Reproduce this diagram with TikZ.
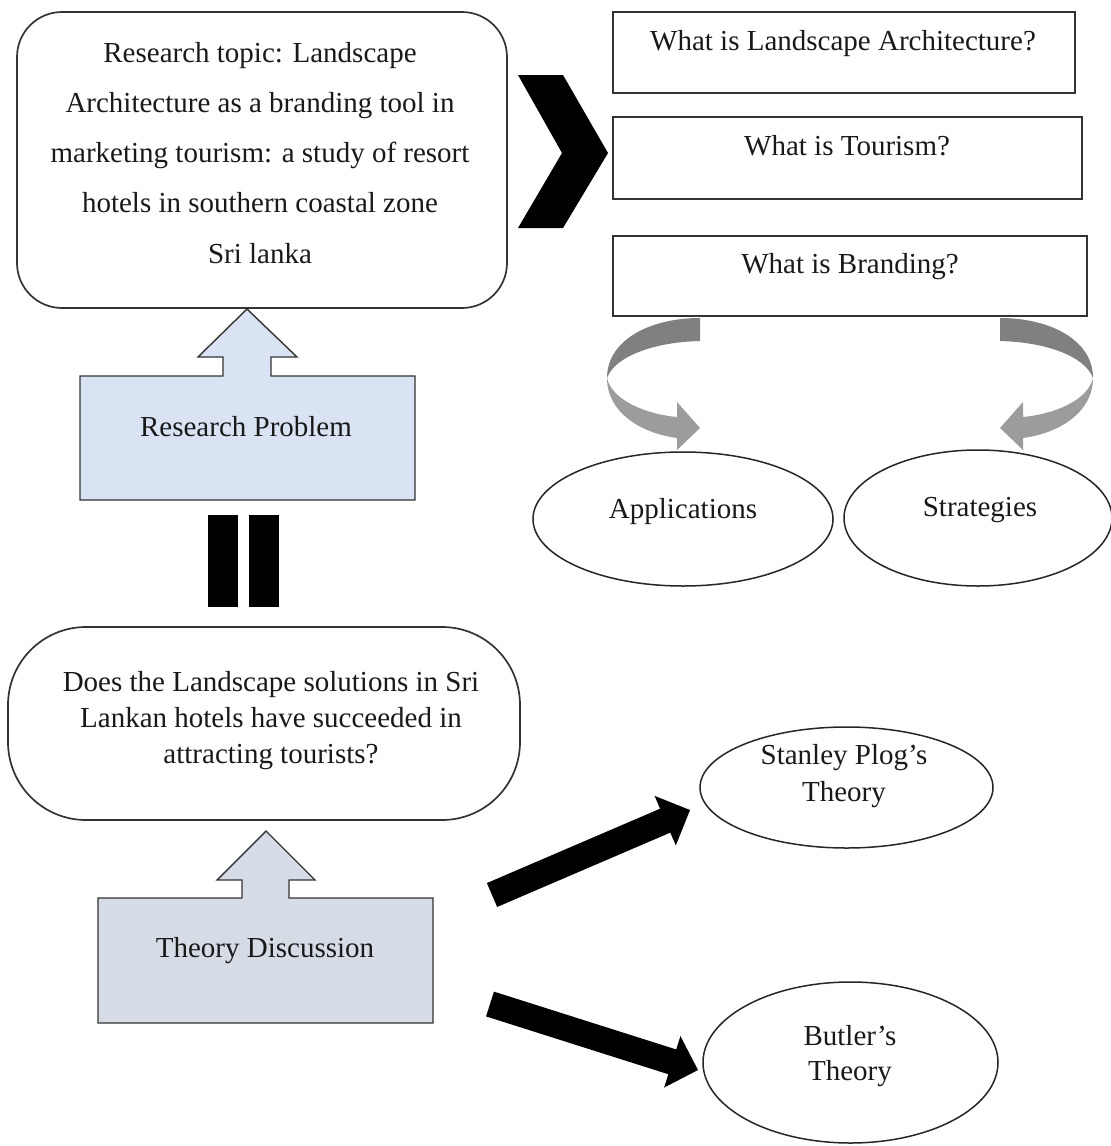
\documentclass[tikz,border=0pt]{standalone}
\usepackage{fontspec}
\setmainfont{Liberation Serif}
\usetikzlibrary{calc,shapes.geometric}
\definecolor{rpblue}{HTML}{DAE3F3}
\definecolor{tdgrey}{HTML}{D6DCE5}
\definecolor{ribdark}{HTML}{808080}
\definecolor{riblight}{HTML}{9C9C9C}
\begin{document}
\begin{tikzpicture}[x=1pt,y=-1pt,
  outl/.style={draw=black!80, line width=1.7pt},
  txt/.style={font=\fontsize{29}{36}\selectfont, text=black!90, inner sep=0pt},
  qbox/.style={outl, rectangle, inner sep=0pt, fill=white},
  oval/.style={draw=black!85, line width=1.5pt, ellipse, inner sep=0pt, fill=white},
  blockfill/.style={fill=black}
]
\useasboundingbox (0,0) rectangle (1111,1146);

% ---------- top-left topic box ----------
\node[qbox, rounded corners=45pt, minimum width=490pt, minimum height=296pt] (topic) at (262,160) {};
\node[txt, align=center, font=\fontsize{29}{50.25}\selectfont] (topictxt) at (260,152.6)
  {Research topic: Landscape\\Architecture as a branding tool in\\marketing tourism: a study of resort\\hotels in southern coastal zone\\Sri lanka};

% ---------- chevron ----------
\fill[black] (518,75) -- (563,75) -- (608,153) -- (563,228) -- (518,228) -- (562,153) -- cycle;

% ---------- right question boxes ----------
\node[qbox, minimum width=462pt, minimum height=81pt] (q1) at (844,52.5) {};
\node[txt, anchor=base] (q1t) at (843,50) {What is Landscape Architecture?};
\node[qbox, minimum width=469pt, minimum height=82pt] (q2) at (847.5,158) {};
\node[txt, anchor=base] (q2t) at (847,155) {What is Tourism?};
\node[qbox, minimum width=474pt, minimum height=80pt] (q3) at (850,276) {};
\node[txt, anchor=base] (q3t) at (850,273) {What is Branding?};

% ---------- ellipses Applications / Strategies ----------
\node[oval, minimum width=300pt, minimum height=134pt] (app) at (683,519) {};
\node[txt, anchor=base] (appt) at (683,518) {Applications};
\node[oval, minimum width=268pt, minimum height=136pt] (strat) at (978,518) {};
\node[txt, anchor=base] (stratt) at (980,516) {Strategies};

% ---------- curved ribbon arrows ----------
\begin{scope}
  \fill[ribdark] (700,318) -- (700,341) .. controls (655,342) and (615,356) .. (607,378)
     .. controls (607,340) and (650,318) .. (700,318) -- cycle;
  \fill[riblight] (607,378) .. controls (607,412) and (640,433) .. (677,438)
     -- (677,450) -- (700,428) -- (677,402) -- (677,417)
     .. controls (645,414) and (612,400) .. (607,378) -- cycle;
\end{scope}
\begin{scope}[shift={(1700,0)}, xscale=-1]
  \fill[ribdark] (700,318) -- (700,341) .. controls (655,342) and (615,356) .. (607,378)
     .. controls (607,340) and (650,318) .. (700,318) -- cycle;
  \fill[riblight] (607,378) .. controls (607,412) and (640,433) .. (677,438)
     -- (677,450) -- (700,428) -- (677,402) -- (677,417)
     .. controls (645,414) and (612,400) .. (607,378) -- cycle;
\end{scope}

% ---------- Research Problem (box with up arrow) ----------
\filldraw[draw=black!80, line width=1.4pt, fill=rpblue, line join=miter]
  (80,376) -- (223,376) -- (223,357) -- (198,357) -- (247,309) -- (297,357)
  -- (271,357) -- (271,376) -- (415,376) -- (415,500) -- (80,500) -- cycle;
\node[txt, anchor=base] (rp) at (246,436) {Research Problem};

% ---------- equal bars ----------
\fill[black] (208,515) rectangle (238,607);
\fill[black] (249,515) rectangle (279,607);

% ---------- question rounded box ----------
\node[qbox, rounded corners=78pt, minimum width=512pt, minimum height=193pt] (quest) at (264,723.5) {};
\node[txt, align=center, font=\fontsize{29}{36}\selectfont] (questt) at (271,721)
  {Does the Landscape solutions in Sri\\Lankan hotels have succeeded in\\attracting tourists?};

% ---------- Theory Discussion (box with up arrow) ----------
\filldraw[draw=black!80, line width=1.4pt, fill=tdgrey, line join=miter]
  (98,898) -- (242,898) -- (242,880) -- (217,880) -- (266,831) -- (315,880)
  -- (289,880) -- (289,898) -- (433,898) -- (433,1023) -- (98,1023) -- cycle;
\node[txt, anchor=base] (td) at (265,957) {Theory Discussion};

% ---------- theory ellipses ----------
\node[oval, minimum width=293pt, minimum height=121pt] (plog) at (846.5,787.5) {};
\node[txt, align=center, font=\fontsize{29}{37}\selectfont] (plogt) at (844,776.5) {Stanley Plog’s\\Theory};
\node[oval, minimum width=295pt, minimum height=161pt] (butler) at (850.5,1062.5) {};
\node[txt, align=center, font=\fontsize{29}{35}\selectfont] (butlert) at (850,1055.6) {Butler’s\\Theory};

% ---------- block arrows ----------
\coordinate (a1tail) at (492,895);
\coordinate (a1tip) at (690,810);
\coordinate (a2tail) at (490,1004);
\coordinate (a2tip) at (698,1070);
\foreach \t/\h in {a1tail/a1tip, a2tail/a2tip}{
  \coordinate (hb) at ($(\h)!27pt!(\t)$);
  \fill[black] ($(\t)!13pt!90:(\h)$) -- ($(hb)!13pt!90:(\h)$) -- ($(hb)!27pt!90:(\h)$)
    -- (\h) -- ($(hb)!27pt!-90:(\h)$) -- ($(hb)!13pt!-90:(\h)$) -- ($(\t)!13pt!-90:(\h)$) -- cycle;
}
\end{tikzpicture}
\end{document}
